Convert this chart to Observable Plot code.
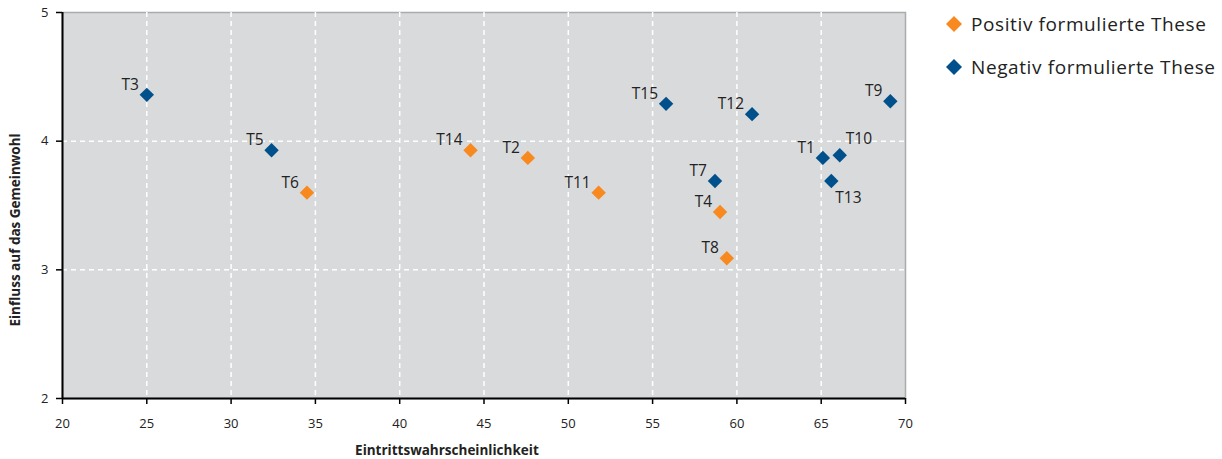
<!DOCTYPE html>
<html><head><meta charset="utf-8">
<script src="https://cdn.jsdelivr.net/npm/d3@7"></script>
<script src="https://cdn.jsdelivr.net/npm/@observablehq/plot@0.6"></script>
<style>
body{margin:0;background:#fff;font-family:"Open Sans",sans-serif;}
#wrap{position:relative;width:1222px;height:459px;}
#legend{position:absolute;left:945px;top:2px;font-size:19px;letter-spacing:0.6px;color:#222;}
#legend div{display:flex;align-items:center;height:43px;}
#legend svg{margin-right:8px;}
</style></head>
<body><div id="wrap"><div id="legend"></div></div>
<script>
const labels = ["T1","T2","T3","T4","T5","T6","T7","T8","T9","T10","T11","T12","T13","T14","T15"];
const xValues = [65.1,47.6,25.0,59.0,32.4,34.5,58.7,59.4,69.1,66.1,51.8,60.9,65.6,44.2,55.8];
const yValues = [3.87,3.87,4.36,3.45,3.93,3.60,3.69,3.09,4.31,3.89,3.60,4.21,3.69,3.93,4.29];
const types = ["neg","pos","neg","pos","neg","pos","neg","pos","neg","neg","pos","neg","neg","pos","neg"];
const xTicks = [20,25,30,35,40,45,50,55,60,65,70];
const yTicks = [2,3,4,5];
const seriesNames = {pos:"Positiv formulierte These", neg:"Negativ formulierte These"};
const colors = {pos:"#f7891f", neg:"#00508c"};

const data = labels.map((l,i)=>({label:l,x:xValues[i],y:yValues[i],type:types[i]}));
const right = new Set(["T10","T13"]);
const below = new Set(["T13"]);

const chart = Plot.plot({
  width:1222, height:459,
  marginLeft:62, marginRight:317, marginTop:12, marginBottom:61,
  style:{fontFamily:"Open Sans, sans-serif", background:"transparent"},
  x:{domain:[20,70]},
  y:{domain:[2,5]},
  marks:[
    Plot.frame({fill:"#d9dadc", stroke:"#a9abad", strokeWidth:1.5}),
    Plot.gridX(xTicks.slice(1,-1),{stroke:"#fff",strokeOpacity:1,strokeWidth:1.5,strokeDasharray:"5,4"}),
    Plot.gridY(yTicks.slice(1,-1),{stroke:"#fff",strokeOpacity:1,strokeWidth:1.5,strokeDasharray:"5,4"}),
    Plot.axisX({ticks:xTicks, tickSize:6, tickPadding:14, fontSize:13, stroke:"#000", strokeWidth:1.5, color:"#222", label:null, tickFormat:d3.format("d")}),
    Plot.axisY({ticks:yTicks, tickSize:6, tickPadding:8, fontSize:13, stroke:"#000", strokeWidth:1.5, color:"#222", label:null, tickFormat:d3.format("d")}),
    Plot.ruleX([20],{stroke:"#000",strokeWidth:2}),
    Plot.ruleY([2],{stroke:"#000",strokeWidth:2}),
    Plot.dot(data,{x:"x",y:"y",symbol:"diamond2",r:6.5,fill:d=>colors[d.type],stroke:null}),
    Plot.text(data.filter(d=>!right.has(d.label)),{x:"x",y:"y",text:"label",textAnchor:"end",dx:-8,dy:-10,fontSize:15.5,fill:"#222"}),
    Plot.text(data.filter(d=>right.has(d.label)&&!below.has(d.label)),{x:"x",y:"y",text:"label",textAnchor:"start",dx:6,dy:-16,fontSize:15.5,fill:"#222"}),
    Plot.text(data.filter(d=>below.has(d.label)),{x:"x",y:"y",text:"label",textAnchor:"start",dx:4,dy:17,fontSize:15.5,fill:"#222"}),
    Plot.text(["Eintrittswahrscheinlichkeit"],{x:[42.8],y:[2],dy:52,fontSize:13.5,fontWeight:"bold",fill:"#222"}),
    Plot.text(["Einfluss auf das Gemeinwohl"],{x:[17.2],y:[3.31],rotate:-90,fontSize:13.5,fontWeight:"bold",fill:"#222"})
  ]
});
document.getElementById("wrap").prepend(chart);

const legend = document.getElementById("legend");
["pos","neg"].forEach(k=>{
  const div=document.createElement("div");
  div.innerHTML=`<svg width="18" height="18" viewBox="-9 -9 18 18"><path d="M0,-8L8,0L0,8L-8,0Z" fill="${colors[k]}"/></svg><span>${seriesNames[k]}</span>`;
  legend.appendChild(div);
});
</script>
</body></html>
